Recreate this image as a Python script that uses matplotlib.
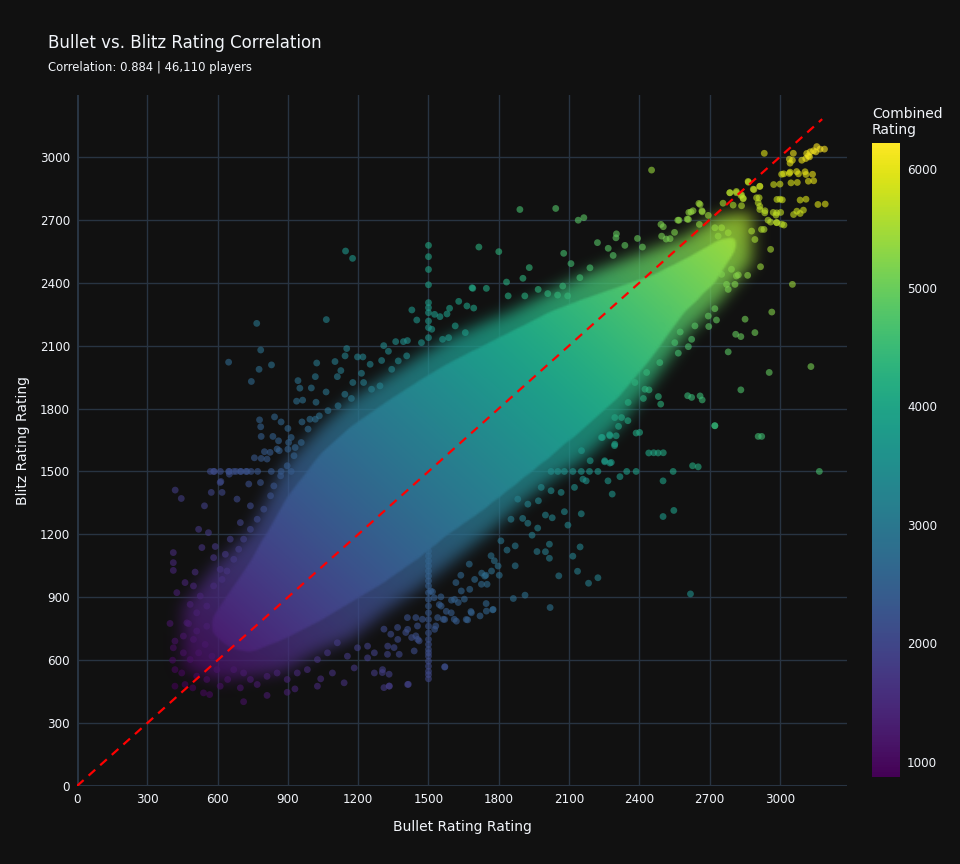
import numpy as np
import matplotlib
matplotlib.use("Agg")
import matplotlib.pyplot as plt
from matplotlib.path import Path
from matplotlib.colors import Normalize

plt.rcParams['font.family'] = ['DejaVu Sans']

# ---------------- data ----------------
title = "Bullet vs. Blitz Rating Correlation"
subtitle = "Correlation: 0.884 | 46,110 players"
x_label = "Bullet Rating Rating"
y_label = "Blitz Rating Rating"
cbar_label = "Combined\nRating"
x_ticks = [0, 300, 600, 900, 1200, 1500, 1800, 2100, 2400, 2700, 3000]
y_ticks = [0, 300, 600, 900, 1200, 1500, 1800, 2100, 2400, 2700, 3000]
cbar_ticks = [1000, 2000, 3000, 4000, 5000, 6000]
combined_min, combined_max = 870, 6220
diag = [0, 3180]

# dense core of the cloud (where the 46k points saturate): upper / lower edges
core_upper_x = [560, 650, 740, 883, 1026, 1169, 1311, 1454, 1597, 1740, 1883, 2024, 2167, 2310, 2453, 2596, 2739, 2830]
core_upper_y = [800, 950, 1100, 1383, 1589, 1732, 1843, 1945, 2040, 2120, 2200, 2280, 2340, 2395, 2450, 2530, 2620, 2640]
core_lower_x = [560, 650, 740, 883, 1026, 1169, 1311, 1454, 1597, 1740, 1883, 2026, 2167, 2310, 2453, 2596, 2739, 2830]
core_lower_y = [720, 640, 620, 684, 764, 859, 954, 1065, 1192, 1303, 1430, 1557, 1690, 1829, 2019, 2241, 2400, 2560]

# semi-dense halo around the core
halo_upper_x = [450, 597, 740, 883, 1026, 1169, 1311, 1454, 1597, 1740, 1883, 2024, 2167, 2310, 2453, 2596, 2739, 2880]
halo_upper_y = [850, 1060, 1208, 1526, 1700, 1843, 1945, 2045, 2140, 2210, 2280, 2360, 2440, 2500, 2560, 2620, 2720, 2740]
halo_lower_x = [450, 597, 740, 883, 1026, 1169, 1311, 1454, 1597, 1740, 1883, 2026, 2167, 2310, 2453, 2596, 2739, 2880]
halo_lower_y = [560, 500, 520, 542, 637, 700, 827, 938, 1065, 1192, 1335, 1462, 1559, 1718, 1924, 2146, 2305, 2500]

# individually visible players (fringe and outliers)
pts_upper_left = [
    (1146, 2551), (1176, 2516), (767, 2206), (1064, 2224), (784, 2079), (647, 2021), (777, 1987), (830, 2008),
    (744, 1929), (1023, 2017), (1151, 2086), (1144, 2051), (1017, 1952), (943, 1933), (951, 1897), (937, 1835),
    (963, 1840), (1000, 1898), (1020, 1830), (1063, 1879), (1101, 2024), (1111, 1952), (1126, 1981), (1177, 1924),
    (1197, 2046), (1220, 2046), (1251, 2011), (1214, 1968), (1309, 2100), (1329, 2073), (1300, 2029), (1360, 2119),
    (1393, 2119), (1410, 2124), (1429, 2270), (1450, 2222), (1470, 2114), (1549, 2238), (1579, 2251), (1590, 2278),
    (1629, 2311), (1664, 2289), (1693, 2279), (1689, 2373), (1526, 2249), (1514, 2178), (1560, 2130), (1614, 2194),
    (1657, 2162), (1586, 2138), (779, 1746), (784, 1713), (843, 1760), (871, 1736), (900, 1705), (786, 1667),
    (836, 1667), (860, 1646), (914, 1662), (903, 1638), (800, 1594), (757, 1565), (786, 1562), (824, 1591),
    (863, 1599), (900, 1606), (931, 1614), (957, 1638), (960, 1736), (994, 1749), (1017, 1749), (986, 1702),
    (1034, 1765), (1071, 1790), (1114, 1813), (1143, 1868), (1171, 1848), (1223, 1924), (1257, 1892), (1293, 1908),
    (1343, 1987), (1371, 2027), (1407, 2051), (614, 1452), (650, 1487), (733, 1440),
]
streak_y1500_left_x = [569, 583, 586, 612, 647, 650, 669, 679, 697, 700, 721, 726, 743, 771, 829, 871, 914]
streak_x1500_upper_y = [2578, 2524, 2463, 2390, 2305, 2281, 2257, 2217, 2186, 2138]
streak_x1500_lower_y = [1193, 1170, 1145, 1120, 1097, 1073, 1049, 1025, 1001, 978, 954, 922, 890, 858, 826,
                        794, 762, 730, 699, 675, 651, 635, 619, 595, 571, 547, 531, 511]

pts_lower_left = [
    (419, 1411), (445, 1371), (544, 1336), (573, 1400), (611, 1447), (619, 1400), (411, 1113), (411, 1065),
    (411, 1028), (519, 1224), (561, 1208), (533, 1137), (590, 1142), (583, 1089), (504, 1020), (461, 970),
    (426, 922), (497, 954), (526, 906), (483, 866), (397, 775), (476, 774), (454, 715), (418, 691), (411, 659),
    (408, 600), (418, 555), (447, 539), (418, 476), (461, 484), (494, 468), (540, 444), (566, 436), (611, 476),
    (643, 508), (697, 468), (740, 508), (711, 402), (811, 432), (897, 447), (930, 463), (1026, 476), (1040, 511),
    (1090, 539), (1140, 492), (1183, 563), (1240, 611), (1269, 539), (1304, 555), (1333, 476), (1411, 484),
    (1569, 567), (1509, 930), (1524, 898), (1554, 858), (1597, 826), (1619, 786), (1661, 794), (1611, 890),
    (1640, 930), (1676, 938), (1697, 985), (1740, 1001), (1726, 962), (1769, 1025), (1797, 1049), (1747, 834),
    (1776, 842), (1683, 826), (1569, 794), (1526, 747), (1454, 699), (1411, 747), (1369, 699), (1326, 667),
    (1269, 635), (1240, 667), (1197, 659), (1154, 619), (1111, 683), (1069, 635), (1026, 603), (983, 555),
    (940, 539), (897, 508), (854, 539), (811, 523), (769, 484), (711, 539), (669, 555), (597, 555), (554, 508),
    (511, 524), (483, 603), (519, 635), (454, 635), (576, 619), (547, 675), (497, 699), (469, 778), (511, 739),
    (554, 762), (511, 826), (554, 858), (583, 954), (619, 985), (640, 1025), (669, 1081), (690, 1129), (711, 1177),
    (740, 1224), (769, 1272), (797, 1320), (826, 1384), (840, 1431), (869, 1479), (897, 1527), (926, 1575),
    (740, 1336), (697, 1256), (654, 1177), (633, 1105), (611, 1033), (683, 1368), (783, 1447), (811, 1559),
    (854, 1607),
]

pts_lower_right = [
    (2722, 1718), (2922, 1667), (3168, 1500), (2651, 1522), (2544, 1500), (2501, 1455), (2501, 1285), (2547, 1314),
    (2618, 916), (2461, 1589), (2502, 1589), (2401, 1686), (2386, 1500), (2346, 1500), (2317, 1475), (2284, 1392),
    (2266, 1455), (2280, 1543), (2252, 1551), (2242, 1662), (2273, 1675), (2301, 1670), (2294, 1623), (2311, 1715),
    (2351, 1742), (2159, 1463), (2173, 1455), (2123, 1424), (2066, 1400), (2023, 1408), (1981, 1424), (2080, 1308),
    (2152, 1298), (2095, 1244), (2147, 1140), (2116, 1096), (2016, 1153), (1999, 1117), (2016, 1086), (1963, 1118),
    (2056, 1002), (2136, 1024), (2183, 967), (2223, 993), (2019, 851), (1912, 910), (1862, 894), (1870, 1050),
    (1870, 1145), (1835, 1125), (1802, 1005), (1781, 1074), (1767, 1098), (1745, 1005), (1727, 1015), (1750, 962),
    (1746, 870), (1774, 840), (1720, 811), (1681, 832), (1667, 792), (1610, 795), (1570, 569), (1653, 891),
    (1627, 875), (1598, 886), (1553, 902), (1546, 865), (1576, 833), (1563, 795), (1531, 763), (1539, 803),
    (1517, 926), (1674, 1058), (1638, 1005), (1617, 970), (1942, 1196), (1966, 1230), (1924, 1253), (1902, 1276),
    (1999, 1292), (2028, 1279), (1969, 1360), (1924, 1344), (1881, 1368), (1852, 1272), (1809, 1169),
    (1325, 628), (1332, 533), (1310, 469), (1332, 477), (1414, 485), (1375, 628), (1353, 660), (1439, 644),
    (1460, 692), (1446, 716), (1428, 708), (1403, 732), (1368, 756), (1339, 724), (1310, 748), (1303, 541),
    (1410, 803), (1446, 803), (1474, 795), (1453, 763),
]
streak_y1500_right_x = [2023, 2052, 2080, 2116, 2152, 2187, 2223]

pts_upper_right = [
    (2452, 2937), (1890, 2749), (2043, 2754), (2139, 2698), (2163, 2710), (1715, 2570), (1800, 2548), (1930, 2472),
    (1903, 2421), (1833, 2403), (1686, 2376), (1747, 2373), (1840, 2337), (1911, 2337), (1968, 2368), (2009, 2348),
    (2051, 2341), (2094, 2337), (2073, 2384), (2108, 2491), (2077, 2540), (2146, 2424), (2189, 2471), (2221, 2591),
    (2267, 2564), (2288, 2530), (2302, 2633), (2300, 2614), (2338, 2578), (2392, 2611), (2413, 2570), (2492, 2678),
    (2502, 2667), (2495, 2622), (2531, 2610), (2569, 2698), (2609, 2702), (2620, 2737), (2659, 2773), (2668, 2738),
    (2656, 2678), (2694, 2721), (2722, 2662), (2751, 2662), (2736, 2622), (2779, 2638), (2786, 2829), (2814, 2829),
    (2833, 2816), (2843, 2800), (2865, 2879), (2889, 2844), (2914, 2860), (2900, 2805), (2907, 2781), (2914, 2749),
    (2935, 2733), (2949, 2698), (2921, 2654), (2879, 2646), (2893, 2606), (2932, 2654), (2960, 2559), (2917, 2476),
    (2862, 2435), (2822, 2437), (2808, 2392), (2772, 2392), (2986, 2733), (2986, 2686), (2960, 2689), (2973, 2868),
    (2987, 2797), (3016, 2919), (3043, 2927), (3079, 2919), (3111, 2916), (3121, 2884), (3047, 2876), (3086, 2794),
    (3072, 2741), (3058, 2725), (3162, 2773), (3053, 2392), (2965, 2260), (2851, 2226), (2893, 2162), (2811, 2154),
    (2833, 2143), (2779, 2070), (2954, 1972), (3132, 2000), (2833, 1889), (2722, 1718), (2907, 1667), (2659, 1860),
    (2623, 1853), (2606, 1861), (2668, 1841), (2481, 1857), (2491, 1821), (2441, 1889), (2417, 1848), (2386, 1683),
    (2440, 1588), (2480, 1588), (2627, 1527), (2295, 1757), (2324, 1757), (2274, 1670), (2238, 1662), (2295, 1630),
    (2252, 1546), (2274, 1540), (2153, 1599), (2190, 1551), (2566, 2064), (2551, 2114), (2609, 2095), (2623, 2130),
    (2574, 2165), (2637, 2194), (2696, 2191), (2729, 2222), (2694, 2241), (2722, 2276), (2779, 2368), (2814, 2432),
    (2793, 2464), (2751, 2440), (2694, 2400), (2609, 2305), (2524, 2273), (2495, 2194), (2466, 2146), (2487, 2019),
    (2431, 1972), (2381, 1924), (2352, 1829), (2424, 1892),
]

pts_top_cluster = [
    (2933, 3017), (3057, 3017), (3040, 2989), (3053, 2984), (3043, 2970), (3093, 2984), (3110, 2992), (3121, 3005),
    (3129, 3024), (3143, 3029), (3157, 3049), (3171, 3037), (3190, 3037), (3153, 3024), (3114, 3016), (3126, 3000),
    (3007, 2917), (3040, 2921), (3071, 2930), (3107, 2929), (3139, 2917), (3144, 2886), (3074, 2878), (3000, 2870),
    (3193, 2775), (3111, 2798), (3000, 2798), (3010, 2795), (3100, 2746), (3086, 2730), (3003, 2735), (2983, 2722),
    (2986, 2687), (3007, 2679), (3017, 2675), (2864, 2883), (2886, 2846), (2914, 2859), (2814, 2835), (2786, 2829),
    (2836, 2819), (2843, 2803), (2911, 2805), (2914, 2764), (2936, 2743), (2971, 2735), (2757, 2779), (2800, 2770),
    (2836, 2767), (2654, 2778), (2667, 2743), (2629, 2743), (2611, 2735), (2564, 2698), (2604, 2703), (2514, 2608),
    (2550, 2640),
]

# ---------------- assemble ----------------
pairs = pts_upper_left + pts_lower_left + pts_lower_right + pts_upper_right + pts_top_cluster
pairs += [(x, 1500) for x in streak_y1500_left_x + streak_y1500_right_x]
pairs += [(1500, y) for y in streak_x1500_upper_y + streak_x1500_lower_y]
px = np.array([p[0] for p in pairs], dtype=float)
py = np.array([p[1] for p in pairs], dtype=float)
combined = px + py

BG = "#111111"
GRID = "#283442"
TXT = "#f2f5fa"

fig = plt.figure(figsize=(9.6, 8.64), dpi=100, facecolor=BG)
ax = fig.add_axes([77 / 960, 1 - 786 / 864, (847 - 77) / 960, (786 - 95) / 864])
ax.set_facecolor(BG)
norm = Normalize(vmin=combined_min, vmax=combined_max)
cmap = plt.get_cmap("viridis")

xmax, ymax = 3286, 3295
ax.set_xlim(0, xmax)
ax.set_ylim(0, ymax)

# colour field for the saturated core (colour = combined rating), soft edged
n = 420
gx = np.linspace(0, xmax, n)
gy = np.linspace(0, ymax, n)
GX, GY = np.meshgrid(gx, gy)
field = GX + GY
grid_pts = np.column_stack([GX.ravel(), GY.ravel()])


def band_mask(ux, uy, lx, ly):
    verts = list(zip(ux, uy)) + list(zip(lx[::-1], ly[::-1]))
    return Path(verts).contains_points(grid_pts).reshape(GX.shape).astype(float)


def soften(m, sigma_cells):
    r = int(3 * sigma_cells)
    k = np.exp(-0.5 * (np.arange(-r, r + 1) / sigma_cells) ** 2)
    k /= k.sum()
    m = np.apply_along_axis(lambda v: np.convolve(v, k, mode="same"), 0, m)
    m = np.apply_along_axis(lambda v: np.convolve(v, k, mode="same"), 1, m)
    return m


core_m = soften(band_mask(core_upper_x, core_upper_y, core_lower_x, core_lower_y), 2.5)
halo_m = soften(band_mask(halo_upper_x, halo_upper_y, halo_lower_x, halo_lower_y), 4.5)
alpha = np.clip(np.maximum(core_m * 1.2, halo_m * 0.8), 0, 1)

ax.imshow(field, extent=[0, xmax, 0, ymax], origin="lower", cmap=cmap, norm=norm,
          aspect="auto", interpolation="bilinear", alpha=alpha, zorder=2)

ax.scatter(px, py, c=combined, cmap=cmap, norm=norm, s=24, alpha=0.6, linewidths=0, zorder=3)

ax.plot(diag, diag, color="red", lw=1.6, ls=(0, (4, 3)), zorder=4)

# grid and axes
ax.set_xticks(x_ticks)
ax.set_yticks(y_ticks)
ax.grid(True, color=GRID, lw=1.0, zorder=0)
ax.set_axisbelow(True)
for s in ax.spines.values():
    s.set_visible(False)
ax.axhline(0, color=GRID, lw=2.2, zorder=1)
ax.axvline(0, color=GRID, lw=2.2, zorder=1)
ax.tick_params(length=0, colors=TXT, labelsize=8.6, pad=5)
ax.set_xlabel(x_label, color=TXT, fontsize=10, labelpad=10)
ax.set_ylabel(y_label, color=TXT, fontsize=10, labelpad=7)

# colorbar
cax = fig.add_axes([872 / 960, 1 - 777 / 864, 28 / 960, (777 - 143) / 864])
cb = fig.colorbar(plt.cm.ScalarMappable(norm=norm, cmap=cmap), cax=cax)
cb.outline.set_visible(False)
cb.set_ticks(cbar_ticks)
cb.ax.tick_params(length=0, colors=TXT, labelsize=8.6, pad=5)
fig.text(872 / 960, 1 - 122 / 864, cbar_label, color=TXT, fontsize=10, ha="left", va="center",
         linespacing=1.1)

fig.text(48 / 960, 1 - 43 / 864, title, color=TXT, fontsize=12, ha="left", va="center")
fig.text(48 / 960, 1 - 68 / 864, subtitle, color=TXT, fontsize=8.4, ha="left", va="center")

fig.savefig("out.png", dpi=100, facecolor=BG)
